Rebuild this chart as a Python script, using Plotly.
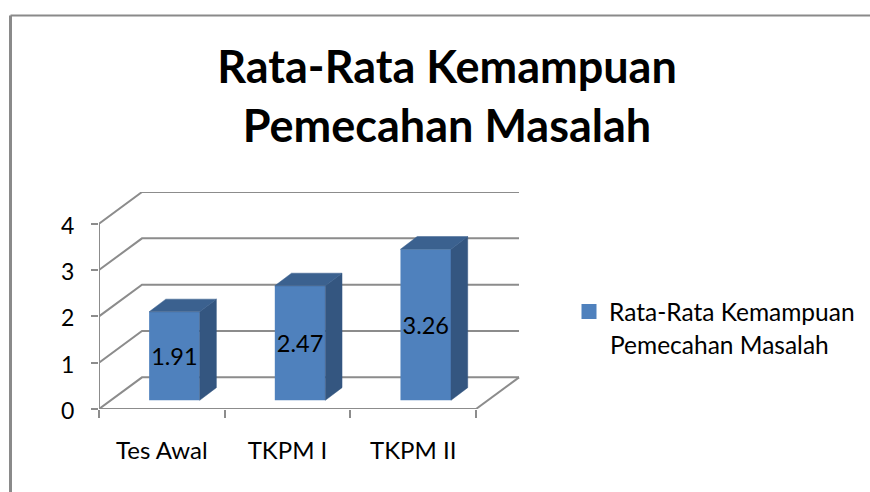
import plotly.graph_objects as go

categories = ["Tes Awal", "TKPM I", "TKPM II"]
values = [1.91, 2.47, 3.26]
value_labels = ["1.91", "2.47", "3.26"]
y_ticks = [0, 1, 2, 3, 4]
series_line1 = "Rata-Rata Kemampuan"
series_line2 = "Pemecahan Masalah"
chart_title = "Rata-Rata Kemampuan<br>Pemecahan Masalah"

W, H = 870, 492
L, R, T, B = 99, 520, 191.7, 409
FONT = "Lato"
GRID = "#8c8c8c"
FRONT, SIDE, TOP = "#4f81bd", "#345680", "#3b618f"

# 3D projection constants, in data units
UX = 125.67
UY = 46.4
xmax = (R - L) / UX
ymax = (B - T) / UY
wall_dx = 43 / UX
wall_dy = 31.7 / UY
bar_center = 0.6
bar_width = 0.402
bar_base = 8.7 / UY
depth_dx = 16.7 / UX
depth_dy = 12.7 / UY
n = len(categories)

px = lambda v: (v - L) / (R - L)
py = lambda v: (B - v) / (B - T)

fig = go.Figure()

# walls and floor
gx, gy = [0, 0, None, 0, n, None, n, n + wall_dx, None], [0, y_ticks[-1], None, 0, 0, None, 0, wall_dy, None]
for t in y_ticks:
    gx += [0, wall_dx, n + wall_dx, None]
    gy += [t, t + wall_dy, t + wall_dy, None]
fig.add_trace(go.Scatter(x=gx, y=gy, mode="lines", line=dict(color=GRID, width=2),
                         cliponaxis=False, showlegend=False, hoverinfo="skip"))

# front faces
xs = [i + bar_center for i in range(n)]
fig.add_trace(go.Bar(x=xs, y=values, base=[bar_base] * n, width=bar_width, xaxis="x2", yaxis="y2",
                     marker=dict(color=FRONT, line=dict(width=0)), text=value_labels,
                     textposition="inside", insidetextanchor="middle", textangle=0,
                     constraintext="none", insidetextfont=dict(color="#000000", size=23.5, family=FONT),
                     showlegend=False))

# side and top faces
for xc, v in zip(xs, values):
    x0, x1 = xc - bar_width / 2, xc + bar_width / 2
    y0, y1 = bar_base, bar_base + v
    fig.add_trace(go.Scatter(x=[x1, x1 + depth_dx, x1 + depth_dx, x1, x1],
                             y=[y0, y0 + depth_dy, y1 + depth_dy, y1, y0],
                             xaxis="x2", yaxis="y2", mode="lines", fill="toself", fillcolor=SIDE,
                             line=dict(color=SIDE, width=0.5), showlegend=False, hoverinfo="skip"))
    fig.add_trace(go.Scatter(x=[x0, x1, x1 + depth_dx, x0 + depth_dx, x0],
                             y=[y1, y1, y1 + depth_dy, y1 + depth_dy, y1],
                             xaxis="x2", yaxis="y2", mode="lines", fill="toself", fillcolor=TOP,
                             line=dict(color=TOP, width=0.5), showlegend=False, hoverinfo="skip"))

# legend entry
fig.add_trace(go.Scatter(x=[None], y=[None], mode="markers", name=series_line1,
                         marker=dict(symbol="square", size=15, color=FRONT)))

fig.update_layout(
    width=W, height=H, autosize=False,
    margin=dict(l=L, r=W - R, t=T, b=H - B, pad=0, autoexpand=False),
    paper_bgcolor="white", plot_bgcolor="rgba(0,0,0,0)",
    font=dict(family=FONT, size=24, color="#000000"),
    title=dict(text=chart_title, x=447 / W, xref="container", xanchor="center",
               y=1 - 83 / H, yref="container", yanchor="middle",
               font=dict(family=FONT, size=45, color="#000000", weight="bold")),
    xaxis=dict(range=[0, xmax], tickmode="array", tickvals=[i + 0.5 for i in range(n)], ticktext=categories,
               ticks="", ticklabelstandoff=25, showgrid=False, zeroline=False, showline=False,
               tickfont=dict(size=24),
               minor=dict(tickmode="array", tickvals=list(range(n + 1)), ticks="outside", ticklen=8,
                          tickcolor=GRID, tickwidth=2, showgrid=False)),
    yaxis=dict(range=[0, ymax], tickmode="array", tickvals=y_ticks, ticks="outside", ticklen=7,
               tickcolor=GRID, tickwidth=2, ticklabelstandoff=12, ticklabelshift=2, showgrid=False,
               zeroline=False, showline=False, tickfont=dict(size=23)),
    xaxis2=dict(range=[0, xmax], overlaying="x", visible=False, anchor="y2"),
    yaxis2=dict(range=[0, ymax], overlaying="y", visible=False, anchor="x2"),
    legend=dict(x=px(569), y=py(289), xanchor="left", yanchor="top", font=dict(size=24.5),
                bgcolor="rgba(0,0,0,0)", itemclick=False, itemdoubleclick=False),
    annotations=[
        dict(text=series_line2, xref="paper", yref="paper", x=px(608), y=py(344), xanchor="left",
             yanchor="middle", showarrow=False, font=dict(size=24.5, color="#000000")),
    ],
    shapes=[
        dict(type="line", xref="paper", yref="paper", x0=px(10.5), x1=px(W), y0=py(15), y1=py(15),
             line=dict(color="#8a8a8a", width=2)),
        dict(type="line", xref="paper", yref="paper", x0=px(10.5), x1=px(10.5), y0=py(15), y1=py(H),
             line=dict(color="#8a8a8a", width=3)),
    ],
)

fig.write_html("out.html", config=dict(displayModeBar=False),
               post_script="document.body.style.margin='0';")
